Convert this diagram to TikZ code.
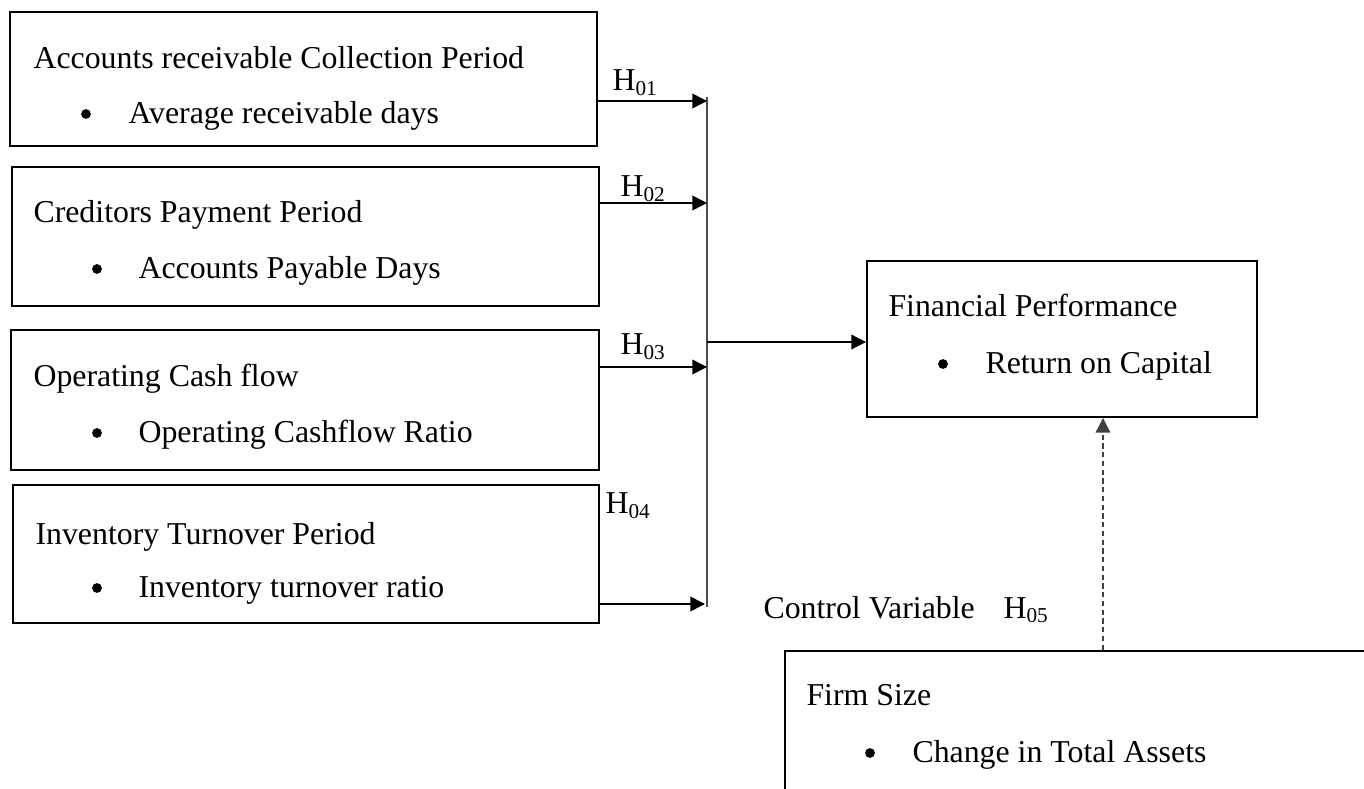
\documentclass[tikz,border=0pt]{standalone}
\usepackage{fontspec}
\setmainfont{Liberation Serif}
\usepackage{tikz}
\usetikzlibrary{arrows.meta, positioning}
\newcommand{\px}[1]{#1*0.377pt}
\tikzset{
  varbox/.style={rectangle, draw, line width=0.75pt, inner sep=0pt},
  lbl/.style={anchor=base west, inner sep=0pt, font=\fontsize{12}{14}\selectfont},
  dot/.style={circle, fill, inner sep=0pt, minimum size=3.7pt},
  arrow/.style={-{Triangle[length=5.5pt,width=5.5pt]}, line width=0.6pt},
  thinarrow/.style={-{Triangle[length=5.5pt,width=5.5pt]}, line width=0.45pt},
  bus/.style={line width=0.5pt, color=black!70},
  ctrl/.style={-{Triangle[length=5.5pt,width=5.5pt]}, dash pattern=on 2pt off 1.3pt,
    line width=0.5pt, color=black!75}
}

\begin{document}
\begin{tikzpicture}[x=0.377pt, y=-0.377pt]
  \useasboundingbox (0,0) rectangle (1364,789);
  \clip (0,0) rectangle (1364,789);

  % independent variables
  \node[varbox, minimum width=\px{587}, minimum height=\px{134}] (ar) at (303.5,79) {};
  \node[varbox, minimum width=\px{587}, minimum height=\px{139}] (cp) at (305.5,236.5) {};
  \node[varbox, minimum width=\px{588}, minimum height=\px{140}] (ocf) at (305,400) {};
  \node[varbox, minimum width=\px{586}, minimum height=\px{138}] (itp) at (306,554) {};

  \node[lbl] (ar-t) at (33,69) {Accounts receivable Collection Period};
  \node[dot] (ar-d) at (86,114) {};
  \node[lbl] (ar-i) at (128,124) {Average receivable days};

  \node[lbl] (cp-t) at (33,223) {Creditors Payment Period};
  \node[dot] (cp-d) at (97,269) {};
  \node[lbl] (cp-i) at (138,279) {Accounts Payable Days};

  \node[lbl] (ocf-t) at (33,387) {Operating Cash flow};
  \node[dot] (ocf-d) at (97,433) {};
  \node[lbl] (ocf-i) at (138,443) {Operating Cashflow Ratio};

  \node[lbl] (itp-t) at (35,545) {Inventory Turnover Period};
  \node[dot] (itp-d) at (97,588) {};
  \node[lbl] (itp-i) at (138,598) {Inventory turnover ratio};

  % dependent variable
  \node[varbox, minimum width=\px{390}, minimum height=\px{156}] (fp) at (1062,339) {};
  \node[lbl] (fp-t) at (888,317) {Financial Performance};
  \node[dot] (fp-d) at (943,364) {};
  \node[lbl] (fp-i) at (985,374) {Return on Capital};

  % control variable
  \node[varbox, minimum width=\px{615}, minimum height=\px{179}] (fs) at (1092.5,740.5) {};
  \node[lbl] (fs-t) at (806,706) {Firm Size};
  \node[dot] (fs-d) at (870,753) {};
  \node[lbl] (fs-i) at (912,763) {Change in Total Assets};
  \node[lbl] (cv) at (763,618) {Control Variable};
  \node[lbl] (h5) at (1003,618) {H\textsubscript{05}};

  % bus and arrows
  \coordinate (bustop) at (707,97);
  \coordinate (busbot) at (707,607);
  \coordinate (j1) at (707,101);
  \coordinate (j2) at (707,203);
  \coordinate (j3) at (707,367);
  \coordinate (j4) at (705,604);
  \coordinate (jfp) at (707,342);
  \coordinate (cx) at (1103,0);

  \draw[bus] (bustop) -- (busbot);
  \draw[arrow] (ar.east |- j1) -- (j1);
  \draw[arrow] (cp.east |- j2) -- (j2);
  \draw[arrow] (ocf.east |- j3) -- (j3);
  \draw[arrow] ([xshift=-0.75pt]itp.east |- j4) -- (j4);
  \draw[thinarrow] (jfp) -- (fp.west |- jfp);
  \draw[ctrl] (fs.north -| cx) -- (fp.south -| cx);

  \node[lbl] (h1) at (612,91) {H\textsubscript{01}};
  \node[lbl] (h2) at (620,197) {H\textsubscript{02}};
  \node[lbl] (h3) at (620,355) {H\textsubscript{03}};
  \node[lbl] (h4) at (605,514) {H\textsubscript{04}};
\end{tikzpicture}
\end{document}
